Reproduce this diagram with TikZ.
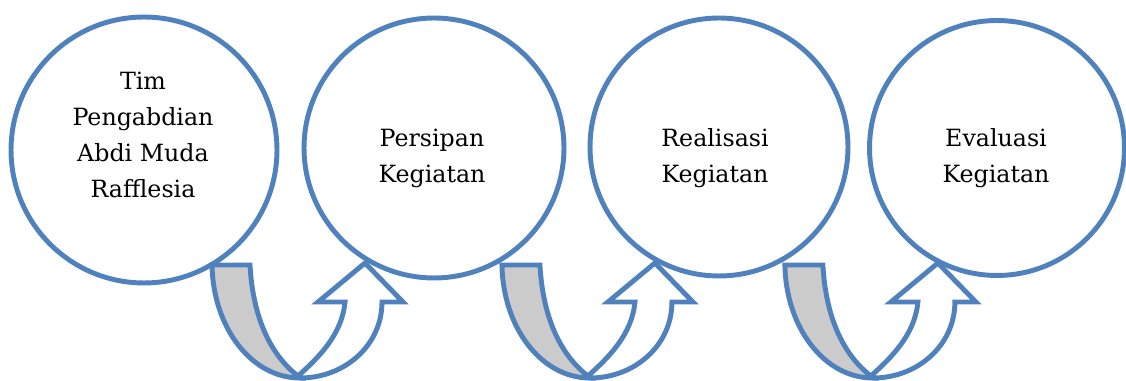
\documentclass[tikz,border=0pt]{standalone}
\usepackage{fontspec}
\setmainfont{DejaVu Serif}
\definecolor{garisbiru}{HTML}{4F81BD}
\definecolor{abuabu}{HTML}{CBCBCB}
\tikzstyle{lingkaran} = [circle, draw=garisbiru, line width=2.8pt,
    fill=white, inner sep=0pt]
\tikzstyle{teks} = [align=center, inner sep=0pt,
    font=\fontsize{13.5}{20.5}\selectfont]
\tikzstyle{panah} = [draw=garisbiru, line width=2.8pt, line join=miter]
% panah putar balik (u-turn), koordinat dalam piksel
\newcommand{\putarbalik}{%
	\filldraw[panah, fill=abuabu] %bagian abu-abu
		(212,265) -- (250,265)
		.. controls (253,320) and (272,356) .. (298,376)
		-- (300,378)
		.. controls (251,378) and (213,327) .. (212,265) -- cycle;
	\filldraw[panah, fill=white] %bagian putih
		(298,376) .. controls (318,358) and (342,335) .. (345,302)
		-- (318,302) -- (365,263) -- (403,302) -- (382,302)
		.. controls (382,345) and (345,378) .. (300,378) -- cycle;
}

\begin{document}
\begin{tikzpicture}[x=0.02cm, y=-0.02cm]
	\useasboundingbox (0,0) rectangle (1126,381);

	% lingkaran
	\node[lingkaran, minimum size=5.32cm] (tim) at (144,150) {};
	\node[lingkaran, minimum size=5.2cm] (persipan) at (434,148) {};
	\node[lingkaran, minimum size=5.16cm] (realisasi) at (719,147) {};
	\node[lingkaran, minimum size=5.1cm] (evaluasi) at (997,148) {};

	% teks
	\node[teks] (teks1) at (143,135) {Tim\\Pengabdian\\Abdi Muda\\Rafflesia};
	\node[teks] (teks2) at (432,158) {Persipan\\Kegiatan};
	\node[teks] (teks3) at (715,158) {Realisasi\\Kegiatan};
	\node[teks] (teks4) at (996,158) {Evaluasi\\Kegiatan};

	% panah
	\begin{scope}
		\putarbalik
	\end{scope}
	\begin{scope}[xshift=5.8cm]
		\putarbalik
	\end{scope}
	\begin{scope}[xshift=11.46cm]
		\putarbalik
	\end{scope}
\end{tikzpicture}
\end{document}
